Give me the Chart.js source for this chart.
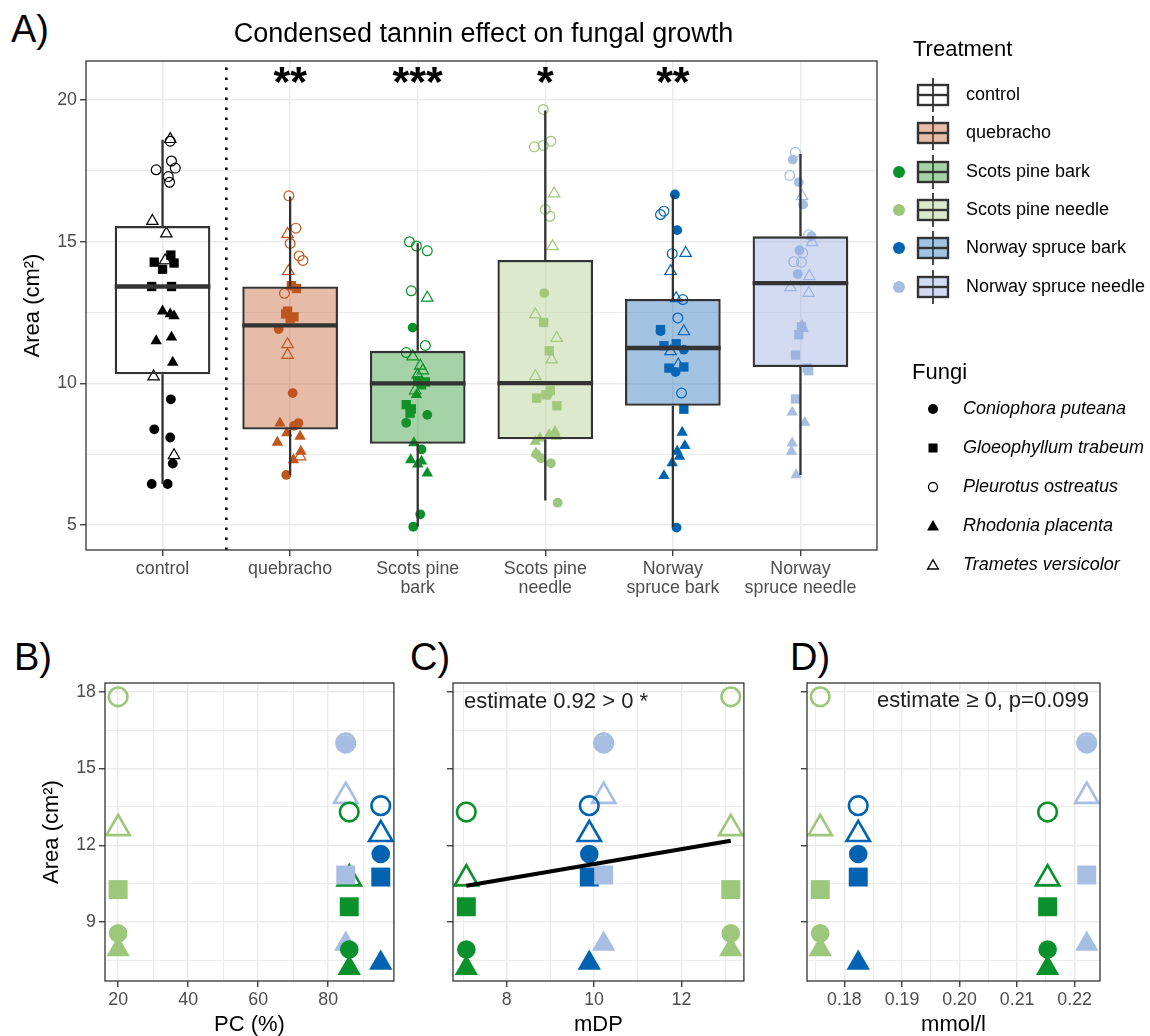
<!DOCTYPE html>
<html lang="en">
<head>
<meta charset="UTF-8">
<title>Condensed tannin effect on fungal growth</title>
<script src="https://cdn.jsdelivr.net/npm/chart.js@4"></script>
<style>
  html, body { margin: 0; padding: 0; background: #fff; }
  body { position: relative; width: 1150px; height: 1036px; overflow: hidden; font-family: "Liberation Sans", Arial, sans-serif; }
  canvas { position: absolute; }
  .tag { position: absolute; font-size: 38px; line-height: 38px; color: #000; }
  .title { position: absolute; left: 0; width: 967px; top: 20px; text-align: center; font-size: 27px; line-height: 27px; color: #000; white-space: nowrap; }
  .lg { position: absolute; color: #000; white-space: nowrap; }
  .lgTitle { font-size: 22px; line-height: 22px; }
  .lgLabel { font-size: 18px; line-height: 20px; }
  .note { position: absolute; font-size: 22px; line-height: 22px; color: #222; white-space: nowrap; }
</style>
</head>
<body>
<div class="tag" style="left:11px;top:10px">A)</div>
<div class="tag" style="left:14px;top:638px">B)</div>
<div class="tag" style="left:410px;top:638px">C)</div>
<div class="tag" style="left:790px;top:638px">D)</div>

<canvas id="chartA" width="963" height="640" style="left:0;top:0"></canvas>
<canvas id="chartB" width="410" height="398" style="left:0;top:640px"></canvas>
<canvas id="chartC" width="340" height="398" style="left:420px;top:640px"></canvas>
<canvas id="chartD" width="380" height="398" style="left:770px;top:640px"></canvas>

<div class="title">Condensed tannin effect on fungal growth</div>
<div class="note" style="left:464px;top:690px">estimate 0.92 &gt; 0 *</div>
<div class="note" style="right:61px;top:689px">estimate ≥ 0, p=0.099</div>

<script>
// ---- data ----
const treatments = ['control', 'quebracho', 'Scots pine bark', 'Scots pine needle', 'Norway spruce bark', 'Norway spruce needle'];
const treatmentTicks = [['control'], ['quebracho'], ['Scots pine', 'bark'], ['Scots pine', 'needle'], ['Norway', 'spruce bark'], ['Norway', 'spruce needle']];
const fungi = ['Coniophora puteana', 'Gloeophyllum trabeum', 'Pleurotus ostreatus', 'Rhodonia placenta', 'Trametes versicolor'];
const signif = ['', '**', '***', '*', '**', ''];

// boxplot summaries per treatment, cm2
const whiskerLow  = [6.45, 6.77, 4.95, 5.87, 4.93, 6.77];
const boxQ1       = [10.32, 8.37, 7.87, 8.03, 9.21, 10.58];
const boxMedian   = [13.42, 12.05, 10.0, 10.01, 11.25, 13.54];
const boxQ3       = [15.56, 13.42, 11.15, 14.36, 12.98, 15.19];
const whiskerHigh = [18.6, 16.6, 14.95, 19.63, 16.65, 18.1];

// single measurements, one row per treatment (area in cm2)
const coniophoraArea = [
  [9.44, 8.38, 8.09, 7.17, 6.45, 6.45],
  [11.92, 9.66, 8.6, 8.5, 6.77],
  [11.97, 8.89, 8.61, 7.67, 5.38, 4.94],
  [13.19, 9.6, 7.5, 7.36, 7.18, 5.79],
  [16.67, 15.41, 11.85, 11.19, 10.4, 4.91],
  [17.9, 17.1, 16.31, 15.2, 14.7, 13.86]];
const gloeophyllumArea = [
  [14.53, 14.28, 14.25, 14.03, 13.42, 13.42],
  [13.45, 13.35, 12.55, 12.45, 12.35, 12.3],
  [10.1, 10.05, 9.95, 9.25, 9.1, 8.95],
  [12.15, 11.15, 9.75, 9.6, 9.48, 9.21],
  [11.9, 11.4, 11.33, 10.58, 10.54, 9.09],
  [12.0, 11.72, 11.0, 10.54, 10.45, 9.45]];
const pleurotusArea = [
  [18.55, 17.85, 17.6, 17.54, 17.3, 17.1],
  [16.62, 15.48, 14.94, 14.5, 14.34, 13.18],
  [15.0, 14.85, 14.68, 13.27, 11.34, 11.09],
  [19.67, 18.55, 18.4, 18.35, 16.14, 15.9],
  [16.08, 15.96, 14.58, 12.96, 12.31, 9.66],
  [18.16, 17.34, 15.25, 14.6, 14.3, 14.28]];
const rhodoniaArea = [
  [12.55, 12.45, 12.38, 11.63, 11.5, 10.74],
  [8.6, 8.25, 8.13, 7.92, 7.6, 7.3],
  [9.6, 7.9, 7.3, 7.25, 7.15, 6.83],
  [8.3, 8.19, 8.13, 8.07, 7.95, 7.54],
  [8.27, 7.8, 7.6, 7.42, 7.19, 6.74],
  [12.05, 8.98, 8.62, 7.89, 7.6, 6.77]];
const trametesArea = [
  [18.62, 15.73, 15.29, 14.34, 10.24, 7.46],
  [15.27, 13.96, 11.38, 11.0, 7.42],
  [13.02, 10.95, 10.62, 10.45, 10.3, 9.75],
  [16.7, 14.84, 12.43, 11.6, 10.84, 10.25],
  [14.6, 13.96, 13.0, 11.84, 11.13, 10.66],
  [16.6, 14.98, 13.78, 13.39, 13.19, 11.95]];

// horizontal jitter of each measurement (category units)
const coniophoraJitter = [
  [0.065, -0.065, 0.06, 0.08, -0.085, 0.04],
  [-0.09, 0.02, 0.065, 0.03, -0.03],
  [-0.04, 0.075, -0.09, 0.03, 0.02, -0.035],
  [-0.008, 0.018, -0.07, -0.034, 0.044, 0.097],
  [0.016, 0.034, -0.097, 0.086, 0.021, 0.029],
  [-0.06, -0.013, 0.021, 0.086, -0.008, -0.021]];
const gloeophyllumJitter = [
  [0.065, -0.065, 0.09, 0.0, -0.085, 0.07],
  [0.01, 0.05, -0.02, -0.035, 0.03, 0.0],
  [0.0, 0.06, 0.03, -0.09, -0.05, -0.06],
  [-0.013, 0.031, 0.039, 0.005, -0.068, 0.091],
  [-0.097, 0.026, -0.07, 0.086, -0.031, 0.086],
  [0.008, -0.013, -0.039, 0.052, 0.065, -0.039]];
const pleurotusJitter = [
  [0.06, 0.07, 0.1, -0.05, 0.045, 0.055],
  [-0.01, 0.045, 0.0, 0.07, 0.1, -0.045],
  [-0.065, -0.01, 0.075, -0.05, 0.06, -0.09],
  [-0.016, 0.044, -0.016, -0.086, 0.0, 0.037],
  [-0.07, -0.097, -0.005, 0.078, 0.039, 0.068],
  [-0.039, -0.084, 0.065, 0.018, -0.052, 0.008]];
const rhodoniaJitter = [
  [0.0, 0.06, 0.09, 0.07, -0.05, 0.08],
  [-0.08, -0.026, 0.078, -0.1, 0.084, 0.026],
  [-0.01, -0.03, -0.055, 0.03, 0.0, 0.075],
  [0.076, 0.031, 0.089, -0.042, -0.078, -0.073],
  [0.073, 0.094, 0.034, 0.052, -0.005, -0.07],
  [0.013, -0.065, 0.034, -0.065, -0.07, -0.034]];
const trametesJitter = [
  [0.06, -0.08, 0.03, 0.02, -0.07, 0.09],
  [-0.02, -0.013, -0.02, -0.02, 0.078],
  [0.075, -0.04, 0.02, 0.04, 0.0, -0.02],
  [0.07, 0.057, -0.078, 0.089, 0.05, -0.078],
  [0.1, -0.018, 0.026, 0.086, -0.018, 0.042],
  [0.013, 0.091, 0.07, -0.078, 0.065, 0.013]];

// panels B-D: tannin sources and their properties
const sources = ['Scots pine bark', 'Scots pine needle', 'Norway spruce bark', 'Norway spruce needle'];
const pcPercent = [86, 20, 95, 85];
const mDP = [7.075, 13.13, 9.89, 10.22];
const mmolL = [0.2153, 0.1758, 0.1824, 0.2221];
// mean area per fungus for each source (cm2)
const coniophoraMean   = [7.93, 8.56, 11.66, 15.95];
const gloeophyllumMean = [9.6, 10.27, 10.76, 10.84];
const pleurotusMean    = [13.3, 17.8, 13.55, 16.0];
const rhodoniaMean     = [7.2, 7.93, 7.4, 8.15];
const trametesMean     = [10.7, 12.66, 12.43, 13.92];
// fitted line in C
const fitMDP  = [7.075, 13.13];
const fitArea = [10.42, 12.18];

// ---- styles ----
const treatmentColors = ['#000000', '#bf561b', '#0a912b', '#9dc77a', '#0063b1', '#a7bde2'];
const boxFill = ['rgba(255,255,255,0)', 'rgba(192,87,37,0.4)', 'rgba(32,142,35,0.4)', 'rgba(170,200,130,0.4)', 'rgba(25,105,185,0.4)', 'rgba(142,165,220,0.4)'];
const fungusShape = ['circle', 'rect', 'circle', 'triangle', 'triangle'];
const fungusOpen = [false, false, true, false, true];
const fungusArea = [coniophoraArea, gloeophyllumArea, pleurotusArea, rhodoniaArea, trametesArea];
const fungusJitter = [coniophoraJitter, gloeophyllumJitter, pleurotusJitter, rhodoniaJitter, trametesJitter];
const fungusMean = [coniophoraMean, gloeophyllumMean, pleurotusMean, rhodoniaMean, trametesMean];
const sourceColors = treatmentColors.slice(2);

Chart.defaults.font.family = '"Liberation Sans", Arial, sans-serif';
Chart.defaults.color = '#4d4d4d';

function axis(o) {
  const all = o.major.concat(o.minor).sort((a, b) => a - b);
  const isMajor = v => o.major.some(m => Math.abs(m - v) < 1e-9);
  return {
    type: 'linear', min: o.min, max: o.max, offset: false, beginAtZero: false,
    afterBuildTicks: s => { s.ticks = all.map(v => ({ value: v })); },
    afterFit: s => { if (s.isHorizontal()) s.height = o.size; else s.width = o.size; },
    border: { display: false },
    grid: {
      offset: false,
      color: '#ebebeb',
      lineWidth: c => (c.tick && isMajor(c.tick.value)) ? 1.5 : 0.9,
      tickLength: 6,
      tickWidth: 1.3,
      tickColor: c => (c.tick && isMajor(c.tick.value)) ? '#333333' : 'rgba(0,0,0,0)'
    },
    ticks: {
      autoSkip: false, maxRotation: 0, minRotation: 0, padding: 3, color: '#4d4d4d',
      font: { size: 17.8, lineHeight: 1.1 },
      callback: v => isMajor(v) ? o.fmt(v) : ''
    },
    title: o.title ? { display: true, text: o.title, color: '#000', font: { size: 22, lineHeight: 1.2 }, padding: o.titlePad } : { display: false }
  };
}

const panelBorder = {
  id: 'panelBorder',
  afterDatasetsDraw(chart) {
    const a = chart.chartArea, ctx = chart.ctx;
    ctx.save();
    ctx.strokeStyle = '#333333';
    ctx.lineWidth = 1.3;
    ctx.strokeRect(a.left, a.top, a.right - a.left, a.bottom - a.top);
    ctx.restore();
  }
};

const signifStars = {
  id: 'signifStars',
  afterDatasetsDraw(chart) {
    const { ctx, scales: { x, y } } = chart;
    ctx.save();
    ctx.font = 'bold 43px "Liberation Sans"';
    ctx.fillStyle = '#000';
    ctx.textAlign = 'center';
    ctx.textBaseline = 'middle';
    signif.forEach((s, i) => { if (s) ctx.fillText(s, x.getPixelForValue(i), y.getPixelForValue(20.55)); });
    ctx.restore();
  }
};

// ---- panel A ----
const yMinA = 4.12, yMaxA = 21.38;
const sizeA = { circle: 4.9, rect: 6.6, triangle: 6.6 };

function fungusPointsA(k) {
  const pts = [];
  fungusArea[k].forEach((vals, t) => vals.forEach((v, j) => pts.push({ x: t + fungusJitter[k][t][j], y: v, t: t })));
  return {
    type: 'scatter', label: fungi[k], data: pts, order: 3,
    pointStyle: fungusShape[k],
    pointRadius: sizeA[fungusShape[k]],
    pointBackgroundColor: pts.map(p => fungusOpen[k] ? 'rgba(0,0,0,0)' : treatmentColors[p.t]),
    pointBorderColor: pts.map(p => treatmentColors[p.t]),
    pointBorderWidth: fungusOpen[k] ? 1.2 : 0
  };
}

const whiskerPts = [];
const medianPts = [];
treatments.forEach((t, i) => {
  whiskerPts.push({ x: i, y: boxQ3[i] }, { x: i, y: whiskerHigh[i] }, { x: i, y: null },
                  { x: i, y: whiskerLow[i] }, { x: i, y: boxQ1[i] }, { x: i, y: null });
  medianPts.push({ x: i - 0.375, y: boxMedian[i] }, { x: i + 0.375, y: boxMedian[i] }, { x: i, y: null });
});

new Chart(document.getElementById('chartA'), {
  type: 'scatter',
  data: {
    datasets: [
      ...fungi.map((f, k) => fungusPointsA(k)),
      {
        type: 'bar', label: 'box', order: 2,
        data: treatments.map((t, i) => ({ x: i, y: [boxQ1[i], boxQ3[i]] })),
        backgroundColor: boxFill, borderColor: '#333333', borderWidth: 2.3, borderSkipped: false,
        categoryPercentage: 1, barPercentage: 0.75
      },
      { type: 'line', label: 'whisker', data: whiskerPts, order: 2, borderColor: '#333333', borderWidth: 2.3, pointRadius: 0, spanGaps: false },
      { type: 'line', label: 'median', data: medianPts, order: 1, borderColor: '#333333', borderWidth: 4.3, pointRadius: 0, spanGaps: false },
      { type: 'line', label: 'sep', data: [{ x: 0.5, y: yMinA }, { x: 0.5, y: yMaxA }], order: 5,
        borderColor: '#000', borderWidth: 2.6, borderDash: [2.6, 7.4], pointRadius: 0 }
    ]
  },
  options: {
    responsive: false, animation: false, events: [],
    layout: { padding: { top: 61, right: 86 } },
    plugins: { legend: { display: false }, tooltip: { enabled: false } },
    scales: {
      x: axis({ min: -0.6, max: 5.6, major: [0, 1, 2, 3, 4, 5], minor: [], fmt: v => treatmentTicks[v], size: 90 }),
      y: axis({ min: yMinA, max: yMaxA, major: [5, 10, 15, 20], minor: [7.5, 12.5, 17.5], fmt: v => String(v), size: 86,
                title: 'Area (cm²)', titlePad: { top: 20, bottom: 0 } })
    }
  },
  plugins: [panelBorder, signifStars]
});

// ---- panels B-D ----
const yMinBD = 6.7, yMaxBD = 18.34;
const sizeBD = { circle: 9.3, rect: 13.4, triangle: 13.5 };

function fungusPointsBD(k, xs) {
  return {
    type: 'scatter', label: fungi[k], order: 2,
    data: xs.map((x, s) => ({ x: x, y: fungusMean[k][s] })),
    pointStyle: fungusShape[k],
    pointRadius: sizeBD[fungusShape[k]],
    pointBackgroundColor: fungusOpen[k] ? 'rgba(0,0,0,0)' : sourceColors,
    pointBorderColor: sourceColors,
    pointBorderWidth: fungusOpen[k] ? 2.6 : 0
  };
}

function panel(id, xs, xAxis, yOpts, padRight, extra) {
  new Chart(document.getElementById(id), {
    type: 'scatter',
    data: { datasets: [...fungi.map((f, k) => fungusPointsBD(k, xs)), ...(extra || [])] },
    options: {
      responsive: false, animation: false, events: [],
      layout: { padding: { top: 43, right: padRight } },
      plugins: { legend: { display: false }, tooltip: { enabled: false } },
      scales: {
        x: axis(xAxis),
        y: axis(Object.assign({ min: yMinBD, max: yMaxBD, major: [9, 12, 15, 18], minor: [7.5, 10.5, 13.5, 16.5] }, yOpts))
      }
    },
    plugins: [panelBorder]
  });
}

panel('chartB', pcPercent,
  { min: 16.25, max: 98.75, major: [20, 40, 60, 80], minor: [30, 50, 70, 90], fmt: v => String(v), size: 57, title: 'PC (%)', titlePad: { top: 0, bottom: 0 } },
  { fmt: v => String(v), size: 105, title: 'Area (cm²)', titlePad: { top: 39, bottom: 0 } }, 9);

panel('chartC', mDP,
  { min: 6.77, max: 13.43, major: [8, 10, 12], minor: [7, 9, 11, 13], fmt: v => String(v), size: 57, title: 'mDP', titlePad: { top: 0, bottom: 0 } },
  { fmt: () => '', size: 33 }, 13,
  [{ type: 'line', label: 'fit', order: 0, data: fitMDP.map((x, i) => ({ x: x, y: fitArea[i] })),
     borderColor: '#000', borderWidth: 4, pointRadius: 0 }]);

panel('chartD', mmolL,
  { min: 0.1735, max: 0.2244, major: [0.18, 0.19, 0.2, 0.21, 0.22], minor: [0.175, 0.185, 0.195, 0.205, 0.215], fmt: v => v.toFixed(2), size: 57, title: 'mmol/l', titlePad: { top: 0, bottom: 0 } },
  { fmt: () => '', size: 37 }, 50);

// ---- legends ----
function place(cls, html, left, top) {
  const d = document.createElement('div');
  d.className = 'lg ' + cls;
  d.innerHTML = html;
  d.style.left = left + 'px';
  d.style.top = top + 'px';
  document.body.appendChild(d);
  return d;
}

place('lgTitle', 'Treatment', 913, 38);
treatments.forEach((t, i) => {
  const yc = 95 + 38.33 * i;
  place('', '<svg width="34" height="36"><line x1="17" y1="1" x2="17" y2="35" stroke="#333" stroke-width="1.8"/>' +
    '<rect x="2" y="8" width="30" height="20" fill="' + boxFill[i] + '" stroke="#333" stroke-width="2.4"/>' +
    '<line x1="2" y1="18" x2="32" y2="18" stroke="#333" stroke-width="2.4"/></svg>', 916, yc - 18);
  if (i >= 2) {
    place('', '<svg width="14" height="14"><circle cx="7" cy="7" r="6" fill="' + treatmentColors[i] + '"/></svg>', 892, yc - 7);
  }
  place('lgLabel', t, 966, yc - 11);
});

place('lgTitle', 'Fungi', 912, 361);
const glyphs = [
  '<circle cx="8" cy="8" r="5" fill="#000"/>',
  '<rect x="3.5" y="3.5" width="9" height="9" fill="#000"/>',
  '<circle cx="8" cy="8" r="4.5" fill="none" stroke="#000" stroke-width="1.3"/>',
  '<polygon points="8,2 14,12.5 2,12.5" fill="#000"/>',
  '<polygon points="8,2.8 13.4,12 2.6,12" fill="none" stroke="#000" stroke-width="1.3"/>'
];
fungi.forEach((f, k) => {
  const yc = 409 + 39 * k;
  place('', '<svg width="16" height="16">' + glyphs[k] + '</svg>', 925, yc - 8);
  place('lgLabel', '<i>' + f + '</i>', 963, yc - 11);
});
</script>
</body>
</html>
